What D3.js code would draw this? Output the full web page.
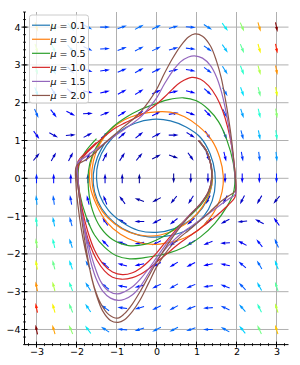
<!DOCTYPE html>
<html>
<head>
<meta charset="utf-8">
<script src="https://cdn.jsdelivr.net/npm/d3@7"></script>
<style>
  body { margin: 0; background: #fff; }
  svg { display: block; font-family: "DejaVu Sans", sans-serif; }
</style>
</head>
<body>
<svg id="chart" width="300" height="365"></svg>
<script>
// legend / series
const muLabels = ['0.1', '0.2', '0.5', '1.0', '1.5', '2.0'];
const muColors = ['#1f77b4', '#ff7f0e', '#2ca02c', '#d62728', '#9467bd', '#8c564b'];

const xTicks = [-3, -2, -1, 0, 1, 2, 3];
const yTicks = [-4, -3, -2, -1, 0, 1, 2, 3, 4];

// quiver grid (rows top -> bottom), u per row, v per cell
const gridX = [-3, -2.571, -2.143, -1.714, -1.286, -0.857, -0.429, 0, 0.429, 0.857, 1.286, 1.714, 2.143, 2.571, 3];
const gridY = [4, 3.429, 2.857, 2.286, 1.714, 1.143, 0.571, 0, -0.571, -1.143, -1.714, -2.286, -2.857, -3.429, -4];
const rowU = [4, 3.429, 2.857, 2.286, 1.714, 1.143, 0.571, 0, -0.571, -1.143, -1.714, -2.286, -2.857, -3.429, -4];
const gridV = [
  [-13.0, -8.6, -5.0, -2.2, 0.0, 1.4, 2.1, 2.0, 1.2, -0.3, -2.6, -5.6, -9.3, -13.8, -19.0],
  [-10.7, -7.1, -4.0, -1.6, 0.2, 1.3, 1.8, 1.7, 1.0, -0.4, -2.4, -5.0, -8.3, -12.2, -16.7],
  [-8.4, -5.4, -3.0, -1.1, 0.4, 1.2, 1.6, 1.4, 0.7, -0.5, -2.2, -4.5, -7.3, -10.6, -14.4],
  [-6.1, -3.8, -2.0, -0.5, 0.5, 1.2, 1.4, 1.1, 0.5, -0.6, -2.0, -3.9, -6.3, -9.0, -12.1],
  [-3.9, -2.2, -0.9, 0.1, 0.7, 1.1, 1.1, 0.9, 0.3, -0.6, -1.8, -3.4, -5.2, -7.4, -9.9],
  [-1.6, -0.6, 0.1, 0.6, 0.9, 1.0, 0.9, 0.6, 0.0, -0.7, -1.7, -2.8, -4.2, -5.8, -7.6],
  [0.7, 1.0, 1.1, 1.2, 1.1, 0.9, 0.7, 0.3, -0.2, -0.8, -1.5, -2.3, -3.2, -4.2, -5.3],
  [3, 2.6, 2.1, 1.7, 1.3, 0.9, 0.4, 0, -0.4, -0.9, -1.3, -1.7, -2.1, -2.6, -3],
  [5.3, 4.2, 3.2, 2.3, 1.5, 0.8, 0.2, -0.3, -0.7, -0.9, -1.1, -1.2, -1.1, -1.0, -0.7],
  [7.6, 5.8, 4.2, 2.8, 1.7, 0.7, 0.0, -0.6, -0.9, -1.0, -0.9, -0.6, -0.1, 0.6, 1.6],
  [9.9, 7.4, 5.2, 3.4, 1.8, 0.6, -0.3, -0.9, -1.1, -1.1, -0.7, -0.1, 0.9, 2.2, 3.9],
  [12.1, 9.0, 6.3, 3.9, 2.0, 0.6, -0.5, -1.1, -1.4, -1.2, -0.5, 0.5, 2.0, 3.8, 6.1],
  [14.4, 10.6, 7.3, 4.5, 2.2, 0.5, -0.7, -1.4, -1.6, -1.2, -0.4, 1.1, 3.0, 5.4, 8.4],
  [16.7, 12.2, 8.3, 5.0, 2.4, 0.4, -1.0, -1.7, -1.8, -1.3, -0.2, 1.6, 4.0, 7.1, 10.7],
  [19.0, 13.8, 9.3, 5.6, 2.6, 0.3, -1.2, -2.0, -2.1, -1.4, 0.0, 2.2, 5.0, 8.6, 13.0]
];

// trajectories
const orbitMu01 = [[1.05,1.0],[1.25,0.7],[1.37,0.35],[1.4,0],[1.33,-0.4],[1.15,-0.78],[0.85,-1.1],[0.45,-1.33],[0,-1.43],[-0.45,-1.38],[-0.85,-1.17],[-1.2,-0.85],[-1.42,-0.45],[-1.5,0],[-1.45,0.45],[-1.25,0.88],[-0.95,1.22],[-0.55,1.45],[-0.1,1.56],[0.35,1.52],[0.75,1.35],[1.1,1.08],[1.34,0.65],[1.46,0.15],[1.45,-0.35],[1.3,-0.82],[1.05,-1.15],[0.7,-1.4],[0.25,-1.53],[-0.2,-1.55],[-0.65,-1.43],[-1.05,-1.18],[-1.37,-0.8],[-1.55,-0.35],[-1.58,0.1],[-1.48,0.55],[-1.28,0.95]];
const orbitMu02 = [[1.05,1.0],[1.25,0.72],[1.36,0.35],[1.4,0],[1.33,-0.38],[1.15,-0.75],[0.88,-1.08],[0.5,-1.35],[0.1,-1.5],[-0.3,-1.52],[-0.7,-1.42],[-1.05,-1.2],[-1.35,-0.88],[-1.55,-0.45],[-1.62,0],[-1.58,0.45],[-1.42,0.9],[-1.15,1.28],[-0.8,1.55],[-0.4,1.7],[0,1.76],[0.34,1.75],[0.7,1.63],[1.05,1.38],[1.38,1.01],[1.58,0.55],[1.67,0.05],[1.64,-0.35],[1.5,-0.78],[1.3,-1.1],[1.05,-1.37],[0.7,-1.58],[0.3,-1.7],[-0.1,-1.75],[-0.5,-1.68],[-0.9,-1.48],[-1.25,-1.15],[-1.5,-0.7],[-1.66,-0.2],[-1.66,0.3],[-1.55,0.7],[-1.3,1.12]];
const orbitMu05 = [[1.05,1.0],[1.25,0.72],[1.36,0.35],[1.39,0],[1.31,-0.36],[1.13,-0.68],[0.85,-0.98],[0.5,-1.3],[0.1,-1.58],[-0.3,-1.75],[-0.7,-1.78],[-1.1,-1.62],[-1.4,-1.3],[-1.6,-0.85],[-1.7,-0.3],[-1.7,0.2],[-1.6,0.62],[-1.4,1.0],[-1.1,1.35],[-0.75,1.62],[-0.4,1.82],[0,1.98],[0.3,2.08],[0.67,2.13],[1.0,2.05],[1.3,1.82],[1.55,1.5],[1.76,1.01],[1.92,0.4],[1.96,-0.04],[1.92,-0.4],[1.76,-0.75],[1.46,-1.19],[1.1,-1.55],[0.7,-1.82],[0.3,-1.98],[0,-2.05],[-0.3,-2.1],[-0.67,-2.13],[-1.0,-2.05],[-1.3,-1.82],[-1.55,-1.5],[-1.76,-1.01],[-1.92,-0.4],[-1.96,0.04],[-1.93,0.38],[-1.78,0.7],[-1.5,1.05]];
const orbitMu10 = [[1.05,1.0],[1.25,0.72],[1.36,0.35],[1.38,0],[1.3,-0.35],[1.12,-0.65],[0.8,-1.0],[0.5,-1.35],[0.2,-1.72],[0,-1.98],[-0.2,-2.2],[-0.4,-2.38],[-0.6,-2.5],[-0.85,-2.55],[-1.1,-2.48],[-1.35,-2.25],[-1.55,-1.9],[-1.72,-1.4],[-1.85,-0.85],[-1.94,-0.25],[-1.96,0.3],[-1.8,0.6],[-1.6,0.82],[-1.4,1.02],[-1.2,1.2],[-1.0,1.35],[-0.8,1.46],[-0.6,1.56],[-0.4,1.67],[-0.2,1.8],[0,1.96],[0.2,2.15],[0.4,2.36],[0.6,2.54],[0.88,2.67],[1.1,2.62],[1.3,2.45],[1.5,2.15],[1.65,1.8],[1.78,1.35],[1.88,0.85],[1.95,0.3],[1.98,-0.1],[1.96,-0.5],[1.8,-0.7],[1.6,-0.9],[1.4,-1.08],[1.2,-1.24],[1.0,-1.4],[0.8,-1.55],[0.6,-1.7],[0.4,-1.87],[0.2,-2.05],[0,-2.22],[-0.2,-2.4],[-0.4,-2.54],[-0.6,-2.63],[-0.88,-2.67],[-1.1,-2.62],[-1.3,-2.45],[-1.5,-2.15],[-1.65,-1.8],[-1.78,-1.35],[-1.88,-0.85],[-1.95,-0.3],[-1.98,0.1],[-1.96,0.45],[-1.75,0.7],[-1.5,0.95]];
const orbitMu15 = [[1.05,1.0],[1.25,0.72],[1.36,0.35],[1.38,0],[1.3,-0.35],[1.12,-0.65],[0.8,-1.0],[0.5,-1.38],[0.2,-1.8],[0,-2.1],[-0.2,-2.4],[-0.4,-2.66],[-0.6,-2.87],[-0.8,-3.0],[-0.97,-3.06],[-1.2,-2.98],[-1.4,-2.72],[-1.55,-2.32],[-1.68,-1.85],[-1.8,-1.3],[-1.9,-0.7],[-1.97,-0.1],[-1.98,0.38],[-1.8,0.55],[-1.6,0.7],[-1.4,0.85],[-1.2,1.0],[-1.0,1.15],[-0.8,1.3],[-0.6,1.45],[-0.4,1.62],[-0.2,1.85],[0,2.12],[0.2,2.5],[0.4,2.83],[0.6,3.08],[0.8,3.21],[0.95,3.24],[1.15,3.18],[1.35,2.98],[1.5,2.68],[1.62,2.3],[1.72,1.85],[1.8,1.4],[1.88,0.85],[1.94,0.3],[1.97,-0.1],[1.97,-0.42],[1.8,-0.55],[1.6,-0.7],[1.4,-0.86],[1.2,-1.02],[1.0,-1.17],[0.8,-1.32],[0.6,-1.48],[0.4,-1.67],[0.2,-1.9],[0,-2.18],[-0.2,-2.52],[-0.4,-2.85],[-0.6,-3.08],[-0.8,-3.2],[-0.95,-3.23],[-1.15,-3.17],[-1.35,-2.98],[-1.5,-2.68],[-1.62,-2.3],[-1.72,-1.85],[-1.8,-1.4],[-1.88,-0.85],[-1.94,-0.3],[-1.97,0.1],[-1.97,0.42],[-1.75,0.58],[-1.5,0.78]];
const orbitMu20 = [[1.05,1.0],[1.25,0.72],[1.36,0.35],[1.38,0],[1.3,-0.35],[1.12,-0.65],[0.8,-1.02],[0.5,-1.42],[0.2,-1.88],[0,-2.22],[-0.2,-2.6],[-0.4,-2.98],[-0.6,-3.32],[-0.8,-3.58],[-0.97,-3.7],[-1.2,-3.6],[-1.4,-3.3],[-1.55,-2.9],[-1.67,-2.4],[-1.78,-1.9],[-1.88,-1.35],[-1.96,-0.75],[-2.01,-0.2],[-2.0,0.33],[-1.8,0.47],[-1.6,0.62],[-1.4,0.82],[-1.2,1.02],[-1.0,1.2],[-0.8,1.38],[-0.6,1.55],[-0.4,1.75],[-0.2,2.02],[0,2.35],[0.2,2.78],[0.4,3.17],[0.6,3.5],[0.8,3.74],[0.96,3.82],[1.15,3.76],[1.35,3.5],[1.5,3.1],[1.62,2.65],[1.72,2.1],[1.8,1.6],[1.88,1.0],[1.94,0.4],[1.97,0],[1.97,-0.33],[1.8,-0.47],[1.6,-0.62],[1.4,-0.82],[1.2,-1.02],[1.0,-1.2],[0.8,-1.38],[0.6,-1.55],[0.4,-1.75],[0.2,-2.02],[0,-2.35],[-0.2,-2.78],[-0.4,-3.2],[-0.6,-3.52],[-0.8,-3.74],[-0.96,-3.81],[-1.15,-3.76],[-1.35,-3.5],[-1.5,-3.1],[-1.62,-2.65],[-1.72,-2.1],[-1.8,-1.6],[-1.88,-1.0],[-1.94,-0.4],[-1.99,0],[-2.0,0.33],[-1.75,0.5],[-1.5,0.7]];
const orbits = [orbitMu01, orbitMu02, orbitMu05, orbitMu10, orbitMu15, orbitMu20];

const svg = d3.select('#chart');
const plot = { left: 24.5, right: 288.5, top: 12, bottom: 344.6 };

const x = d3.scaleLinear().domain([-3.3, 3.3]).range([plot.left, plot.right]);
const y = d3.scaleLinear().domain([-4.4, 4.4]).range([plot.bottom, plot.top]);

// matplotlib "jet"
const jetR = d3.scaleLinear().domain([0, 0.35, 0.66, 0.89, 1]).range([0, 0, 1, 1, 0.5]).clamp(true);
const jetG = d3.scaleLinear().domain([0, 0.125, 0.375, 0.64, 0.91, 1]).range([0, 0, 1, 1, 0, 0]).clamp(true);
const jetB = d3.scaleLinear().domain([0, 0.11, 0.34, 0.65, 1]).range([0.5, 1, 1, 0, 0]).clamp(true);
const jet = (t) => d3.rgb(jetR(t) * 255, jetG(t) * 255, jetB(t) * 255).toString();

// grid
const grid = svg.append('g').attr('class', 'grid')
  .attr('stroke', '#b0b0b0').attr('stroke-width', 1);
grid.selectAll('.gx').data(xTicks).join('line')
  .attr('x1', (d) => x(d)).attr('x2', (d) => x(d))
  .attr('y1', plot.top).attr('y2', plot.bottom);
grid.selectAll('.gy').data(yTicks).join('line')
  .attr('class', 'gy')
  .attr('y1', (d) => y(d)).attr('y2', (d) => y(d))
  .attr('x1', plot.left).attr('x2', plot.right);

// arrows (unit length, coloured by magnitude)
const cells = [];
gridY.forEach((gy, i) => {
  gridX.forEach((gx, j) => {
    const u = rowU[i];
    const v = gridV[i][j];
    const n = Math.hypot(u, v);
    if (n > 0) cells.push({ gx, gy, u, v, n });
  });
});
const nMax = d3.max(cells, (d) => d.n);

const L = 9.8, w = 1.06;
const hl = 5 * w, hal = 4.5 * w, hw = 1.5 * w;
const arrowPath = `M${-L / 2},${-w / 2}L${L / 2 - hal},${-w / 2}L${L / 2 - hl},${-hw}L${L / 2},0`
  + `L${L / 2 - hl},${hw}L${L / 2 - hal},${w / 2}L${-L / 2},${w / 2}Z`;

svg.append('g')
  .attr('class', 'quiver')
  .selectAll('path')
  .data(cells)
  .join('path')
  .attr('d', arrowPath)
  .attr('fill', (d) => jet(d.n / nMax))
  .attr('transform', (d) => `translate(${x(d.gx)},${y(d.gy)}) rotate(${Math.atan2(-d.v, d.u) * 180 / Math.PI})`);

// trajectories
const line = d3.line()
  .x((d) => x(d[0]))
  .y((d) => y(d[1]))
  .curve(d3.curveCatmullRom.alpha(0.5));

svg.append('g')
  .attr('class', 'orbits')
  .selectAll('path')
  .data(orbits)
  .join('path')
  .attr('d', line)
  .attr('fill', 'none')
  .attr('stroke', (d, i) => muColors[i])
  .attr('stroke-width', 1.2);

// axes
const fmt = (d) => (d < 0 ? '\u2212' + Math.abs(d) : String(d));
const xAxis = d3.axisBottom(x).tickValues(xTicks).tickFormat(fmt).tickSize(0).tickPadding(3.5);
const yAxis = d3.axisLeft(y).tickValues(yTicks).tickFormat(fmt).tickSize(0).tickPadding(4);

const gx = svg.append('g').attr('transform', `translate(0,${plot.bottom})`).call(xAxis);
const gy = svg.append('g').attr('transform', `translate(${plot.left},0)`).call(yAxis);
[gx, gy].forEach((g) => {
  g.select('.domain').remove();
  g.selectAll('text').attr('font-size', 9.5).attr('fill', '#000')
    .attr('font-family', '"DejaVu Sans", sans-serif');
});

svg.append('line').attr('x1', plot.left).attr('x2', plot.left)
  .attr('y1', plot.top).attr('y2', plot.bottom).attr('stroke', '#000').attr('stroke-width', 1);
svg.append('line').attr('x1', plot.left).attr('x2', plot.right)
  .attr('y1', plot.bottom).attr('y2', plot.bottom).attr('stroke', '#000').attr('stroke-width', 1);

const minorX = d3.range(-16, 17).map((k) => k / 5);
const minorY = d3.range(-22, 23).map((k) => k / 5);
const ticks = svg.append('g').attr('stroke', '#000');
ticks.selectAll('.mx').data(minorX).join('line')
  .attr('x1', (d) => x(d)).attr('x2', (d) => x(d))
  .attr('y1', plot.bottom - 1.5).attr('y2', plot.bottom + 1.5).attr('stroke-width', 0.8);
ticks.selectAll('.my').data(minorY).join('line')
  .attr('class', 'my')
  .attr('y1', (d) => y(d)).attr('y2', (d) => y(d))
  .attr('x1', plot.left - 1.5).attr('x2', plot.left + 1.5).attr('stroke-width', 0.8);
ticks.selectAll('.Mx').data(xTicks).join('line')
  .attr('class', 'Mx')
  .attr('x1', (d) => x(d)).attr('x2', (d) => x(d))
  .attr('y1', plot.bottom - 3).attr('y2', plot.bottom + 3).attr('stroke-width', 1);
ticks.selectAll('.My').data(yTicks).join('line')
  .attr('class', 'My')
  .attr('y1', (d) => y(d)).attr('y2', (d) => y(d))
  .attr('x1', plot.left - 3).attr('x2', plot.left + 3).attr('stroke-width', 1);

// legend
const legend = svg.append('g').attr('class', 'legend');
legend.append('rect')
  .attr('x', 29.5).attr('y', 15).attr('width', 59).attr('height', 88).attr('rx', 2.5)
  .attr('fill', '#fff').attr('fill-opacity', 0.8)
  .attr('stroke', '#cccccc').attr('stroke-width', 1);

const entry = legend.selectAll('.entry')
  .data(muLabels)
  .join('g')
  .attr('class', 'entry')
  .attr('transform', (d, i) => `translate(0,${25.2 + i * 14.05})`);
entry.append('line')
  .attr('x1', 32).attr('x2', 50)
  .attr('stroke', (d, i) => muColors[i]).attr('stroke-width', 1.2);
const label = entry.append('text')
  .attr('x', 50.5).attr('y', 3.4)
  .attr('font-size', 9.5).attr('fill', '#000');
label.append('tspan').attr('font-style', 'italic').text('\u03bc');
label.append('tspan').text((d) => ` = ${d}`);
</script>
</body>
</html>
